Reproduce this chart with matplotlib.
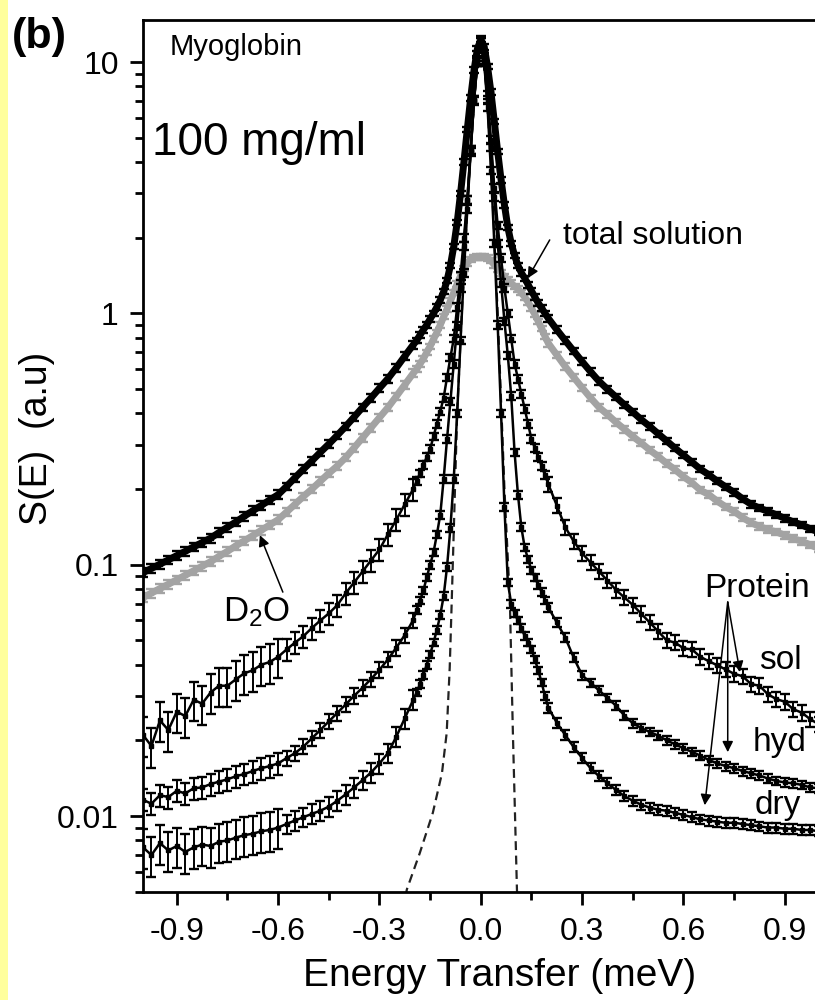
import matplotlib as mpl
mpl.use("Agg")
import matplotlib.pyplot as pp
import numpy as np
from matplotlib.patches import Rectangle
from matplotlib.ticker import FixedLocator, NullFormatter, LogLocator

# energy grid (meV): left wing, quasi-elastic core, right wing
e_left = np.round(np.arange(-1.0, -0.199, 0.025), 3)
e_core = np.round(np.arange(-0.19, 0.191, 0.01), 3)
e_right = np.round(np.arange(0.2, 1.001, 0.025), 3)
seg_len = [17, 16, 39, 33]   # far left, near left, core, right

total_left = [0.093, 0.0966, 0.1005, 0.1045, 0.1087, 0.113, 0.1178, 0.1225, 0.1276, 0.1343, 0.141,
              0.148, 0.156, 0.164, 0.172, 0.181, 0.190, 0.205, 0.222, 0.240, 0.259, 0.280, 0.302,
              0.327, 0.355, 0.387, 0.423, 0.461, 0.504, 0.550, 0.608, 0.676, 0.750]
total_core = [0.78, 0.82, 0.86, 0.90, 0.95, 1.00, 1.06, 1.13, 1.22, 1.35, 1.55, 1.85, 2.3, 3.0, 4.0,
              5.4, 7.2, 9.3, 11.3, 12.3, 11.5, 9.6, 7.6, 5.8, 4.4, 3.4, 2.7, 2.2, 1.9, 1.7, 1.55,
              1.45, 1.38, 1.30, 1.23, 1.16, 1.10, 1.05, 1.00]
total_right = [0.955, 0.861, 0.780, 0.708, 0.643, 0.586, 0.537, 0.499, 0.465, 0.433, 0.405, 0.378,
               0.355, 0.332, 0.311, 0.291, 0.273, 0.256, 0.240, 0.228, 0.215, 0.204, 0.194, 0.183,
               0.174, 0.168, 0.163, 0.158, 0.153, 0.148, 0.144, 0.139, 0.135]

d2o_left = [0.074, 0.0771, 0.0804, 0.0836, 0.0871, 0.0908, 0.0946, 0.0986, 0.1028, 0.108, 0.113,
            0.119, 0.1245, 0.1306, 0.137, 0.144, 0.151, 0.162, 0.174, 0.187, 0.200, 0.215, 0.231,
            0.247, 0.267, 0.292, 0.320, 0.351, 0.385, 0.422, 0.468, 0.520, 0.578]
d2o_core = [0.60, 0.63, 0.66, 0.70, 0.74, 0.79, 0.84, 0.90, 0.97, 1.04, 1.12, 1.21, 1.31, 1.41, 1.51,
            1.59, 1.64, 1.67, 1.68, 1.68, 1.68, 1.66, 1.62, 1.56, 1.50, 1.45, 1.40, 1.36, 1.32, 1.28,
            1.25, 1.21, 1.16, 1.11, 1.05, 0.99, 0.93, 0.87, 0.81]
d2o_right = [0.760, 0.683, 0.614, 0.557, 0.506, 0.461, 0.423, 0.396, 0.369, 0.346, 0.324, 0.305,
             0.286, 0.270, 0.253, 0.239, 0.224, 0.212, 0.198, 0.190, 0.179, 0.170, 0.163, 0.154,
             0.147, 0.142, 0.138, 0.135, 0.131, 0.127, 0.124, 0.120, 0.116]

sol_left = [0.021, 0.019, 0.024, 0.022, 0.026, 0.025, 0.029, 0.028, 0.031, 0.033, 0.033, 0.035,
            0.037, 0.038, 0.040, 0.041, 0.043, 0.046, 0.049, 0.052, 0.056, 0.060, 0.064, 0.069,
            0.077, 0.085, 0.094, 0.104, 0.115, 0.132, 0.151, 0.174, 0.200]
sol_core = [0.215, 0.231, 0.249, 0.268, 0.288, 0.324, 0.363, 0.407, 0.462, 0.556, 0.668, 0.794, 1.06,
            1.41, 2.0, 2.82, 4.47, 7.08, 10.2, 12.3, 10.5, 7.4, 4.9, 3.16, 2.24, 1.66, 1.26, 1.0,
            0.794, 0.631, 0.55, 0.479, 0.417, 0.363, 0.316, 0.291, 0.268, 0.247, 0.227]
sol_right = [0.209, 0.172, 0.141, 0.124, 0.111, 0.102, 0.094, 0.0865, 0.0794, 0.0741, 0.0692, 0.0638,
             0.0589, 0.0543, 0.050, 0.049, 0.0465, 0.046, 0.043, 0.0413, 0.0398, 0.0383, 0.0368,
             0.0360, 0.0335, 0.033, 0.0305, 0.0292, 0.0285, 0.0266, 0.0258, 0.0243, 0.0232]

hyd_left = [0.0116, 0.0112, 0.0121, 0.0119, 0.0126, 0.0123, 0.0129, 0.0130, 0.0134, 0.0137, 0.0140,
            0.0144, 0.0147, 0.0151, 0.0155, 0.0158, 0.0162, 0.0170, 0.0178, 0.0189, 0.0204, 0.0220,
            0.0238, 0.0257, 0.0278, 0.0301, 0.0324, 0.0351, 0.0382, 0.0420, 0.0468, 0.0525, 0.0603]
hyd_core = [0.066, 0.072, 0.079, 0.089, 0.100, 0.112, 0.132, 0.158, 0.219, 0.316, 0.447, 0.631, 0.891,
            1.26, 1.86, 2.82, 4.47, 7.08, 10.0, 12.0, 10.0, 7.1, 4.6, 2.9, 1.9, 1.32, 0.93, 0.68,
            0.47, 0.28, 0.19, 0.141, 0.117, 0.105, 0.095, 0.089, 0.083, 0.078, 0.072]
hyd_right = [0.0676, 0.0589, 0.0513, 0.0427, 0.0363, 0.0339, 0.0316, 0.0295, 0.0275, 0.0251, 0.0234,
             0.0224, 0.0216, 0.0209, 0.0200, 0.0193, 0.0186, 0.0180, 0.0174, 0.0167, 0.0162, 0.0158,
             0.0155, 0.0151, 0.0148, 0.0145, 0.0141, 0.0138, 0.0136, 0.0135, 0.0133, 0.0130, 0.0129]

dry_left = [0.0075, 0.0070, 0.0078, 0.0073, 0.0076, 0.0072, 0.0075, 0.0077, 0.0076, 0.0079, 0.0080,
            0.0082, 0.0084, 0.0085, 0.0087, 0.0088, 0.0090, 0.0093, 0.0096, 0.0099, 0.0102, 0.0105,
            0.0109, 0.0115, 0.0122, 0.0130, 0.0139, 0.0149, 0.0162, 0.0178, 0.0207, 0.0245, 0.0290]
dry_core = [0.0310, 0.0335, 0.0365, 0.040, 0.044, 0.049, 0.055, 0.063, 0.075, 0.098, 0.14, 0.22, 0.40,
            0.78, 1.45, 2.6, 4.4, 7.0, 10.0, 12.0, 10.0, 6.6, 3.7, 1.9, 0.9, 0.40, 0.17, 0.085, 0.070,
            0.064, 0.060, 0.056, 0.052, 0.049, 0.046, 0.042, 0.038, 0.034, 0.030]
dry_right = [0.027, 0.0235, 0.021, 0.0188, 0.0170, 0.0155, 0.0144, 0.0135, 0.0127, 0.0120, 0.0115,
             0.0111, 0.0108, 0.0106, 0.0105, 0.0103, 0.0101, 0.0099, 0.0097, 0.0096, 0.0095, 0.0094,
             0.0094, 0.0093, 0.0092, 0.0091, 0.0090, 0.0090, 0.0089, 0.0089, 0.0088, 0.0088, 0.0087]

# relative errors per segment: far left, near left, core, right
total_rel = [0.04, 0.035, 0.025, 0.03]
d2o_rel = [0.04, 0.035, 0.025, 0.03]
sol_rel = [0.18, 0.10, 0.035, 0.07]
hyd_rel = [0.10, 0.07, 0.035, 0.04]
dry_rel = [0.18, 0.09, 0.035, 0.045]

# resolution function (dashed)
res_e = [-0.23, -0.219, -0.181, -0.142, -0.115, -0.101, -0.092, -0.086, -0.07, -0.05, -0.03, -0.015,
         0.0, 0.015, 0.03, 0.05, 0.07, 0.086, 0.095, 0.107, 0.11]
res_s = [0.0042, 0.0051, 0.0071, 0.0103, 0.0148, 0.0214, 0.039, 0.072, 0.40, 1.5, 4.5, 8.5, 12.0,
         8.3, 4.0, 1.0, 0.2, 0.072, 0.0214, 0.0051, 0.0042]

xticks = [-0.9, -0.6, -0.3, 0.0, 0.3, 0.6, 0.9]
xtick_labels = ["-0.9", "-0.6", "-0.3", "0.0", "0.3", "0.6", "0.9"]
xminor = [-0.75, -0.45, -0.15, 0.15, 0.45, 0.75]
yticks = [0.01, 0.1, 1, 10]
ytick_labels = ["0.01", "0.1", "1", "10"]


def configure_pp():
    pp.rcParams["font.family"] = ["Liberation Sans", "DejaVu Sans"]
    pp.rcParams["mathtext.default"] = "regular"
    pp.rcParams["axes.linewidth"] = 2.0


def spectrum(ax, left, core, right, rel, color, lw, ms, z):
    e = np.concatenate([e_left, e_core, e_right])
    s = np.array(left + core + right)
    err = s * np.repeat(rel, seg_len)
    ax.plot(e, s, color=color, lw=lw, zorder=z, solid_joinstyle="round")
    ax.errorbar(e, s, yerr=err, fmt='s', ms=ms, mfc=color, mec=color, ecolor=color,
                elinewidth=1.4, capsize=3.5, capthick=1.7, zorder=z)


def plot(name):
    fig = pp.figure(figsize=(8.15, 10), dpi=100)
    fig.add_artist(Rectangle((0, 0), 8 / 815, 1, transform=fig.transFigure,
                             facecolor="#ffff9c", edgecolor="none", zorder=0))

    ax = fig.add_axes([143 / 815, 108.3 / 1000, 675.6 / 815, 871.7 / 1000])
    ax.set_yscale("log")
    ax.set_xlim(-1.0, 1.0)
    ax.set_ylim(0.005, 14.7)

    spectrum(ax, d2o_left, d2o_core, d2o_right, d2o_rel, "#a3a3a3", 5.0, 3.5, 2)
    spectrum(ax, total_left, total_core, total_right, total_rel, "black", 5.0, 3.5, 3)
    spectrum(ax, sol_left, sol_core, sol_right, sol_rel, "black", 1.8, 2.5, 4)
    spectrum(ax, hyd_left, hyd_core, hyd_right, hyd_rel, "black", 1.8, 2.5, 4)
    spectrum(ax, dry_left, dry_core, dry_right, dry_rel, "black", 1.8, 2.5, 4)
    ax.plot(res_e, res_s, color="#222222", lw=1.6, dashes=(4, 2.5), zorder=1)

    ax.set_xticks(xticks, xtick_labels)
    ax.xaxis.set_minor_locator(FixedLocator(xminor))
    ax.set_yticks(yticks, ytick_labels)
    ax.yaxis.set_minor_locator(LogLocator(base=10, subs=np.arange(2, 10)))
    ax.yaxis.set_minor_formatter(NullFormatter())
    ax.tick_params(which="major", direction="out", length=9.5, width=2.0, labelsize=23, pad=8)
    ax.tick_params(which="minor", direction="out", length=5.5, width=2.0)
    ax.tick_params(axis="x", which="major", pad=9)

    # labels and annotations
    ax.text(0.04, 0.960, "Myoglobin", transform=ax.transAxes, fontsize=21, va="baseline")
    ax.text(0.0133, 0.845, "100 mg/ml", transform=ax.transAxes, fontsize=33, va="baseline")

    arrow = dict(arrowstyle="-|>", color="black", lw=1.1, mutation_scale=16, shrinkA=0, shrinkB=0)
    ax.text(0.243, 2.03, "total solution", fontsize=23, ha="left", va="center")
    ax.annotate("", xy=(0.139, 1.38), xytext=(0.204, 1.96), arrowprops=arrow)

    ax.text(-0.663, 0.0647, "D$_2$O", fontsize=25, ha="center", va="center")
    ax.annotate("", xy=(-0.654, 0.131), xytext=(-0.586, 0.0778), arrowprops=arrow)

    ax.text(0.817, 0.0807, "Protein", fontsize=24, ha="center", va="center")
    for tip in [(0.767, 0.0374), (0.731, 0.01795), (0.663, 0.01104)]:
        ax.annotate("", xy=tip, xytext=(0.731, 0.0710), arrowprops=arrow)
    ax.text(0.888, 0.0417, "sol", fontsize=24, ha="center", va="center")
    ax.text(0.885, 0.0197, "hyd", fontsize=24, ha="center", va="center")
    ax.text(0.879, 0.0110, "dry", fontsize=24, ha="center", va="center")

    fig.text(37 / 815, 0.562, "S(E)  (a.u)", rotation=90, fontsize=27, ha="center", va="center")
    fig.text(500 / 815, 0.024, "Energy Transfer (meV)", fontsize=28, ha="center", va="center")
    fig.text(12 / 815, 0.952, "(b)", fontsize=31, fontweight="bold", va="baseline")

    pp.savefig(name, dpi=100)


if __name__ == "__main__":
    configure_pp()
    plot("out.png")
